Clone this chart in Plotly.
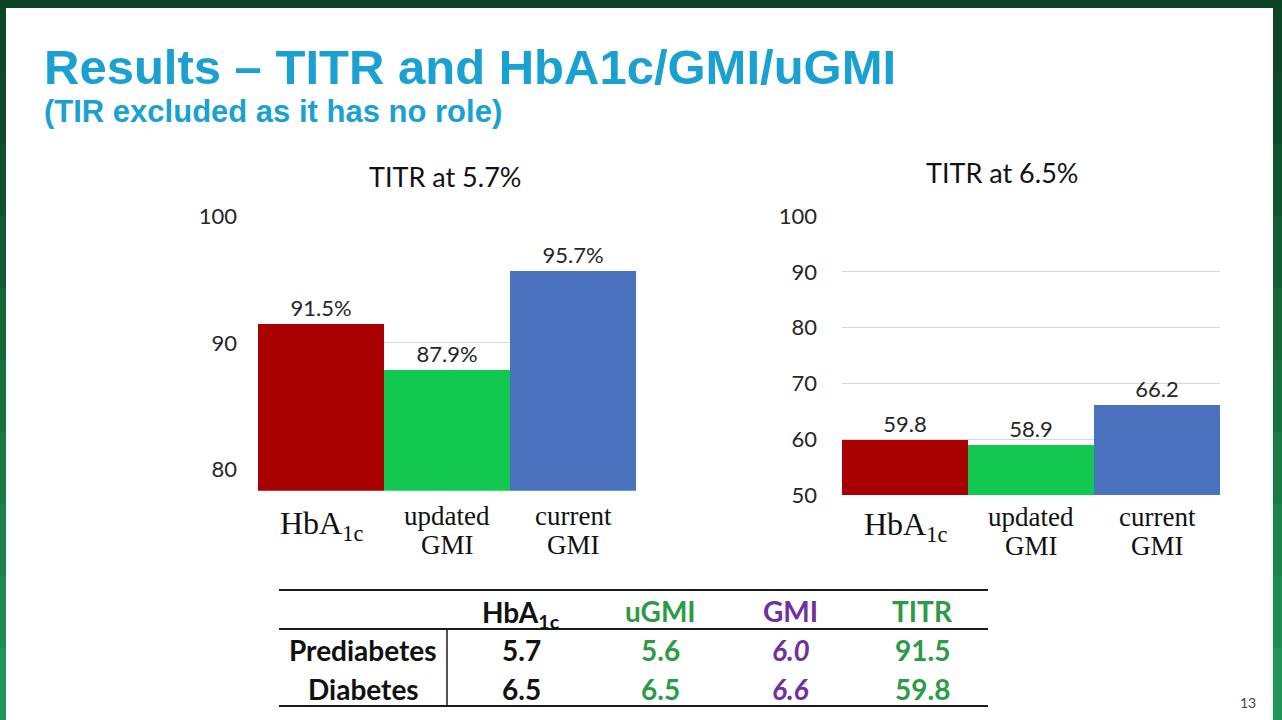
import plotly.graph_objects as go

# === Data ===
categories = ["HbA1c", "updated GMI", "current GMI"]
category_line1 = ["HbA<sub>1c</sub>", "updated", "current"]
category_line2 = ["", "GMI", "GMI"]
titr_at_57 = [91.5, 87.9, 95.7]
titr_at_65 = [59.8, 58.9, 66.2]
bar_colors = ["#A80000", "#12C850", "#4A72BE"]

left_ticks = [80, 90, 100]
right_ticks = [50, 60, 70, 80, 90, 100]

table_header = ["HbA<sub>1c</sub>", "uGMI", "GMI", "TITR"]
table_rows = ["Prediabetes", "Diabetes"]
hba1c = [5.7, 6.5]
ugmi = [5.6, 6.5]
gmi = [6.0, 6.6]
titr = [91.5, 59.8]

W, H = 1282, 720
TITLE_BLUE = "#1AA1D2"
TXT = "#262626"
GREEN_T = "#2D9A47"
PURPLE_T = "#7030A0"
SANS = "Lato"
SERIF = "Liberation Serif"


def px(x):
    return x / W


def py(y):
    return 1 - y / H


def text_at(x, y, text, size, color, family=SANS, xanchor="center", xref="paper"):
    return dict(x=x, y=py(y), xref=xref, yref="paper", text=text, showarrow=False,
                xanchor=xanchor, yanchor="middle",
                font=dict(family=family, size=size, color=color))


fig = go.Figure()

# === Bar charts ===
fig.add_trace(go.Bar(
    x=categories, y=titr_at_57, marker=dict(color=bar_colors, line=dict(width=0)),
    texttemplate="%{y:.1f}%", textposition="outside", cliponaxis=False,
    textfont=dict(size=22, color=TXT, family=SANS),
    xaxis="x", yaxis="y", showlegend=False, hoverinfo="skip",
))
fig.add_trace(go.Bar(
    x=categories, y=titr_at_65, marker=dict(color=bar_colors, line=dict(width=0)),
    texttemplate="%{y:.1f}", textposition="outside", cliponaxis=False,
    textfont=dict(size=22, color=TXT, family=SANS),
    xaxis="x2", yaxis="y2", showlegend=False, hoverinfo="skip",
))

ax_common = dict(showline=False, zeroline=False, ticks="", fixedrange=True)
fig.update_layout(
    xaxis=dict(domain=[px(258), px(636)], anchor="y", showticklabels=False,
               showgrid=False, **ax_common),
    yaxis=dict(domain=[py(490.7), py(216.7)], anchor="x", range=[78.3, 100],
               tickvals=left_ticks, gridcolor="#D9D9D9", gridwidth=1,
               tickfont=dict(size=22, color=TXT, family=SANS),
               ticklabelstandoff=20, **ax_common),
    xaxis2=dict(domain=[px(842), px(1220)], anchor="y2", showticklabels=False,
                showgrid=False, **ax_common),
    yaxis2=dict(domain=[py(495), py(216)], anchor="x2", range=[50, 100],
                tickvals=right_ticks, gridcolor="#D9D9D9", gridwidth=1,
                tickfont=dict(size=22, color=TXT, family=SANS),
                ticklabelstandoff=24, **ax_common),
)

ann = []
# category labels under the bars
for xr, y1, y2 in (("x", 516, 545), ("x2", 517, 546)):
    for cat, l1, l2 in zip(categories, category_line1, category_line2):
        if cat == "HbA1c":
            ann.append(text_at(cat, y1 + 9, l1, 32, "#111111", SERIF, xref=xr))
        else:
            ann.append(text_at(cat, y1, l1, 27, "#111111", SERIF, xref=xr))
            ann.append(text_at(cat, y2, l2, 27, "#111111", SERIF, xref=xr))

# chart titles
ann.append(text_at(px(445), 176, "TITR at 5.7%", 27, "#111111"))
ann.append(text_at(px(1002), 172, "TITR at 6.5%", 27, "#111111"))

# slide title
ann.append(text_at(px(42), 67, "<b>Results – TITR and HbA1c/GMI/uGMI</b>", 49,
                   TITLE_BLUE, "Liberation Sans", xanchor="left"))
ann.append(text_at(px(42), 111, "<b>(TIR excluded as it has no role)</b>", 31,
                   TITLE_BLUE, "Liberation Sans", xanchor="left"))

# === Table ===
col_x = [363, 521, 660, 791, 922]
row_y = [650, 689]
head_y = 611
head_colors = ["#111111", GREEN_T, PURPLE_T, GREEN_T]
for cx, h, c in zip(col_x[1:], table_header, head_colors):
    ann.append(text_at(px(cx), head_y + (3 if "sub" in h else 0), f"<b>{h}</b>", 28, c))

for i, name in enumerate(table_rows):
    cells = [
        (f"<b>{name}</b>", "#111111"),
        (f"<b>{hba1c[i]:.1f}</b>", "#111111"),
        (f"<b>{ugmi[i]:.1f}</b>", GREEN_T),
        (f"<b><i>{gmi[i]:.1f}</i></b>", PURPLE_T),
        (f"<b>{titr[i]:.1f}</b>", GREEN_T),
    ]
    for cx, (t, c) in zip(col_x, cells):
        ann.append(text_at(px(cx), row_y[i], t, 28, c))

# page number
ann.append(text_at(px(1248), 702, "13", 14, "#444444"))

shapes = []
line_c = "#1A1A1A"
for yy in (590, 629, 706):
    shapes.append(dict(type="line", xref="paper", yref="paper", x0=px(279), x1=px(988),
                       y0=py(yy), y1=py(yy), line=dict(color=line_c, width=2)))
shapes.append(dict(type="line", xref="paper", yref="paper", x0=px(447), x1=px(447),
                   y0=py(629), y1=py(706), line=dict(color=line_c, width=1.5)))

# green slide frame (stepped gradient on the sides)
side_cols = ["#0C4527", "#0E4A2B", "#10532F", "#125C34", "#156639", "#18703F",
             "#1A7A45", "#1C834B", "#1E8C52", "#209557"]
n = len(side_cols)
for k, c in enumerate(side_cols):
    y0 = py(H * k / n)
    y1 = py(H * (k + 1) / n)
    for x0, x1 in ((0, 6), (1273, W)):
        shapes.append(dict(type="rect", xref="paper", yref="paper", x0=px(x0), x1=px(x1),
                           y0=y1, y1=y0, fillcolor=c, line=dict(width=0), layer="above"))
shapes.append(dict(type="rect", xref="paper", yref="paper", x0=0, x1=1, y0=py(8), y1=1,
                   fillcolor="#0B4425", line=dict(width=0), layer="above"))

fig.update_layout(
    width=W, height=H,
    margin=dict(l=0, r=0, t=0, b=0, pad=0, autoexpand=False),
    paper_bgcolor="white", plot_bgcolor="white",
    bargap=0,
    font=dict(family=SANS, color=TXT),
    annotations=ann,
    shapes=shapes,
    showlegend=False,
)

fig.write_html("out.html", config={"displayModeBar": False},
               post_script="document.body.style.margin='0';")
